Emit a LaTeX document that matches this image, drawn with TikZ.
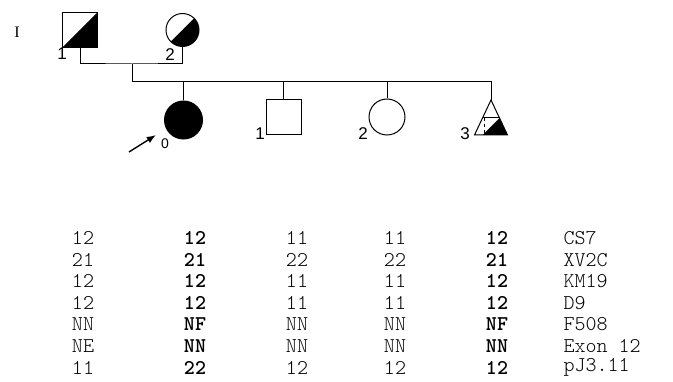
\documentclass[tikz,border=0pt]{standalone}
\usepackage{fontspec}
\setmainfont{Liberation Sans}
\setmonofont{Latin Modern Mono Light}
\newfontfamily\genfont{Liberation Serif}
\usetikzlibrary{arrows.meta, positioning}

\begin{document}
\begin{tikzpicture}[
        x=1pt, y=-1pt,
        >=Latex,
        line width=1pt,
        every node/.style={font=\fontsize{17}{17}\selectfont},
        male/.style={rectangle, draw, minimum size=35pt, inner sep=0pt},
        female/.style={circle, draw, minimum size=34pt, inner sep=0pt},
        carrier/.style={path picture={\fill (path picture bounding box.south west) -- (path picture bounding box.south east) -- (path picture bounding box.north east) -- cycle;}},
        idx/.style={inner sep=0pt},
        geno/.style={font=\ttfamily\fontsize{21}{21}\selectfont, inner sep=0pt},
        bgeno/.style={font=\ttfamily\bfseries\fontsize{21}{21}\selectfont, inner sep=0pt},
        marker/.style={geno, anchor=west}
    ]
        \useasboundingbox (0,0) rectangle (673,382);

        % generation I
        \node[font=\genfont\fontsize{16}{16}\selectfont] (gen) at (17,32) {I};
        \node[male, carrier] (f1) at (80,30) {};
        \node[female, carrier, minimum size=33pt] (f2) at (182.5,30) {};
        \node[idx] (f1n) at (62,54) {1};
        \node[idx] (f2n) at (170,55) {2};

        % generation II
        \node[female, fill=black, minimum size=38pt] (p) at (183.5,120) {};
        \node[male] (s1) at (283.5,117) {};
        \node[female, minimum size=36pt] (s2) at (387,117) {};
        \coordinate (t3) at (491,100);
        \node[idx] (s1n) at (260,134) {1};
        \node[idx] (s2n) at (363,134) {2};
        \node[idx] (t3n) at (465,134) {3};

        % lines
        \coordinate (mate) at (132,64);
        \coordinate (sib) at (132,82);
        \draw (f1.south) |- (mate) -| (f2.south);
        \draw (mate) -- (sib) -- (sib -| t3) -- (t3);
        \foreach \k in {p, s1, s2}
            \draw (\k.north) -- (\k.north |- sib);

        % triangle (sex unknown)
        \draw (t3) -- ++(16.5,35) -- ++(-33,0) -- cycle;
        \draw (482.5,118) -- (499.5,118);
        \fill (482.5,135) -- (499.5,118) -- (507.5,135) -- cycle;
        \draw[line width=0.5pt, dashed] (484,118) -- (484,135);

        % proband
        \coordinate (atail) at (129,152);
        \coordinate (ahead) at (156,135);
        \draw[->, line width=1.4pt] (atail) -- (ahead);
        \node[font=\fontsize{14}{14}\selectfont] (plab) at (165,144) {0};

        % haplotypes
        \foreach \a/\b/\c/\d/\e/\m [count=\i] in {12/12/11/11/12/CS7, 21/21/22/22/21/XV2C, 12/12/11/11/12/KM19, 12/12/11/11/12/D9, NN/NF/NN/NN/NF/F508, NE/NN/NN/NN/NN/Exon 12, 11/22/12/12/12/pJ3.11} {
            \pgfmathsetmacro\ry{238+21.6*(\i-1)}
            \node[geno] (r\i-1) at (83,\ry) {\a};
            \node[bgeno] (r\i-2) at (195,\ry) {\b};
            \node[geno] (r\i-3) at (297,\ry) {\c};
            \node[geno] (r\i-4) at (395,\ry) {\d};
            \node[bgeno] (r\i-5) at (497,\ry) {\e};
            \node[marker] (r\i-m) at (563,\ry) {\m};
        }
    \end{tikzpicture}
\end{document}
